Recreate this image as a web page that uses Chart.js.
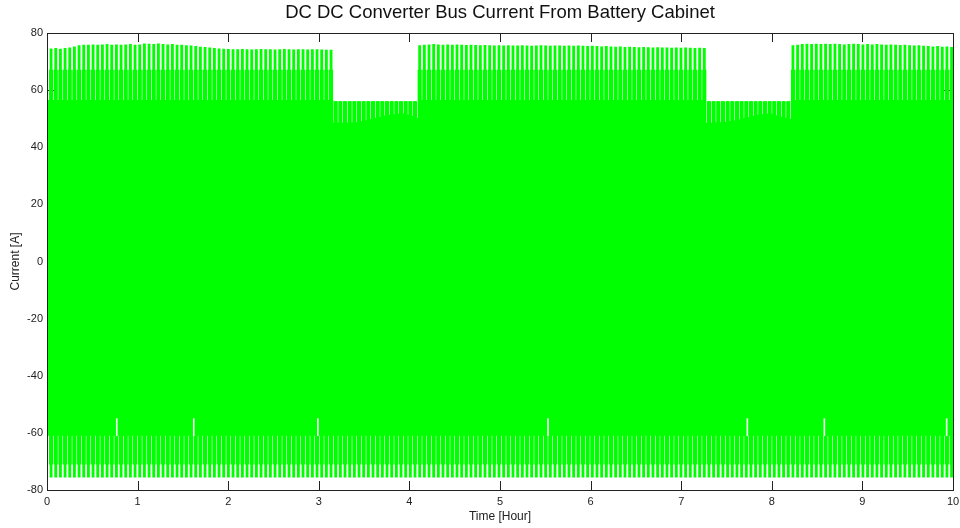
<!DOCTYPE html>
<html>
<head>
<meta charset="utf-8">
<script src="https://cdn.jsdelivr.net/npm/chart.js@4.4.1/dist/chart.umd.min.js"></script>
<style>
  html, body { margin: 0; padding: 0; background: #ffffff; }
  canvas { display: block; }
</style>
</head>
<body>
<canvas id="chart" width="960" height="528"></canvas>
<script>
// ---- Text ----
const chartTitle = 'DC DC Converter Bus Current From Battery Cabinet';
const xAxisLabel = 'Time [Hour]';
const yAxisLabel = 'Current [A]';

// ---- Tick labels ----
const xTickHours = [0, 1, 2, 3, 4, 5, 6, 7, 8, 9, 10];
const yTickAmps = [-80, -60, -40, -20, 0, 20, 40, 60, 80];

// ---- Switching bursts: first burst time and spacing (hours) ----
const SPIKE_START_H = 0.045;
const SPIKE_PERIOD_H = 0.0515;

// Positive peak of each burst [A] (56 A while the load is reduced)
const upperPeak = [
  74.5, 74.6, 74.4, 74.6, 74.8, 75.2, 75.6, 75.8, 75.8, 75.9, 75.8, 75.9, 76.0, 75.8, 75.9, 75.8, 75.9, 76.0, 75.8, 75.9,
  76.2, 76.1, 76.0, 76.2, 76.0, 75.9, 76.0, 75.8, 75.8, 75.6, 75.5, 75.3, 75.1, 75.0, 74.8, 74.6, 74.5, 74.4, 74.3, 74.2,
  74.2, 74.3, 74.2, 74.1, 74.2, 74.3, 74.2, 74.2, 74.1, 74.2, 74.3, 74.2, 74.1, 74.2, 74.2, 74.1, 74.2, 74.2, 74.1, 74.0,
  74.0, 56, 56, 56, 56, 56, 56, 56, 56, 56, 56, 56, 56, 56, 56, 56, 56, 56, 56, 75.6,
  75.8, 75.9, 76.0, 75.9, 75.8, 75.9, 75.8, 75.9, 75.8, 75.7, 75.8, 75.7, 75.6, 75.7, 75.6, 75.5, 75.6, 75.5, 75.6, 75.5,
  75.5, 75.6, 75.5, 75.4, 75.5, 75.6, 75.5, 75.4, 75.5, 75.5, 75.4, 75.5, 75.4, 75.5, 75.4, 75.3, 75.4, 75.3, 75.2, 75.3,
  75.2, 75.1, 75.2, 75.0, 75.1, 75.0, 74.9, 75.0, 74.9, 74.8, 74.9, 74.8, 74.8, 74.7, 74.8, 74.7, 74.8, 74.7, 74.6, 74.7,
  74.6, 56, 56, 56, 56, 56, 56, 56, 56, 56, 56, 56, 56, 56, 56, 56, 56, 56, 56, 75.6,
  75.8, 76.0, 76.1, 76.0, 76.1, 76.0, 76.1, 76.0, 76.1, 76.0, 75.9, 76.0, 76.1, 76.0, 75.9, 76.0, 75.9, 76.0, 75.9, 75.8,
  75.9, 75.8, 75.7, 75.8, 75.6, 75.5, 75.6, 75.4, 75.3, 75.2, 75.3, 75.1, 75.2, 75.0
];
const UPPER_SHOULDER = 67;   // positive shoulder reached by every burst [A]
const LOWER_SHOULDER = -71;  // negative shoulder [A]
const LOWER_PEAK = -75.5;    // negative peak [A]

// ---- Continuous ripple band: upper edge (hours, amps) and lower edge ----
const bandTopHours = [0, 3.16, 3.16, 3.205, 3.40, 3.565, 3.75, 3.93, 4.04, 4.105, 4.105,
                      7.27, 7.27, 7.29, 7.48, 7.65, 7.83, 7.98, 8.12, 8.22, 8.22, 10];
const bandTopAmps  = [56.5, 56.5, 48.6, 48.6, 48.7, 49.8, 51.3, 51.9, 50.9, 50.1, 56.5,
                      56.5, 48.6, 48.6, 48.8, 49.8, 51.3, 51.9, 50.5, 50.0, 56.5, 56.5];
const BAND_BOTTOM = -61;

// ---- Brief dips where the negative swing only reaches about -55 A ----
const dipHours = [0.77, 1.62, 2.99, 5.53, 7.73, 8.58, 9.93];
const DIP_LEVEL = -55;

// ---- Build datasets ----
const GREEN = '#00ff00';
const FONT = "'Liberation Sans', Arial, Helvetica, sans-serif";

const spikeHours = upperPeak.map((_, i) => SPIKE_START_H + i * SPIKE_PERIOD_H);
const band = bandTopHours.map((h, i) => ({ x: h, y: bandTopAmps[i] }));
const shoulderBars = spikeHours.map((h, i) => ({ x: h, y: [LOWER_SHOULDER, Math.min(UPPER_SHOULDER, upperPeak[i])] }));
const peakBars = spikeHours.map((h, i) => ({ x: h, y: [LOWER_PEAK, upperPeak[i]] }));
const dipBars = dipHours.map(h => ({ x: h, y: [BAND_BOTTOM, DIP_LEVEL] }));

// Box round the plot area with inward tick marks on all four sides,
// and the title centred over the plot area
const TICK_LEN = 9;
const axesBox = {
  id: 'axesBox',
  beforeDatasetsDraw(chart) {
    const { ctx, chartArea: a, scales: { x, y } } = chart;
    ctx.save();
    ctx.strokeStyle = '#222';
    ctx.lineWidth = 1;
    ctx.beginPath();
    xTickHours.forEach(v => {
      const px = Math.round(x.getPixelForValue(v)) + 0.5;
      ctx.moveTo(px, a.bottom); ctx.lineTo(px, a.bottom - TICK_LEN);
      ctx.moveTo(px, a.top); ctx.lineTo(px, a.top + TICK_LEN);
    });
    yTickAmps.forEach(v => {
      const py = Math.round(y.getPixelForValue(v)) + 0.5;
      ctx.moveTo(a.left, py); ctx.lineTo(a.left + TICK_LEN, py);
      ctx.moveTo(a.right, py); ctx.lineTo(a.right - TICK_LEN, py);
    });
    ctx.stroke();
    ctx.restore();
  },
  afterDatasetsDraw(chart) {
    const { ctx, chartArea: a } = chart;
    ctx.save();
    ctx.strokeStyle = '#222';
    ctx.lineWidth = 1;
    ctx.strokeRect(Math.round(a.left) + 0.5, Math.round(a.top) + 0.5,
                   Math.round(a.right - a.left), Math.round(a.bottom - a.top));
    ctx.fillStyle = '#111';
    ctx.font = '18.5px ' + FONT;
    ctx.textAlign = 'center';
    ctx.textBaseline = 'middle';
    ctx.fillText(chartTitle, (a.left + a.right) / 2, 12.6);
    ctx.restore();
  }
};

new Chart(document.getElementById('chart'), {
  type: 'bar',
  data: {
    datasets: [
      { type: 'line', data: band, fill: { value: BAND_BOTTOM }, backgroundColor: GREEN,
        borderColor: GREEN, borderWidth: 0, pointRadius: 0, tension: 0, order: 3 },
      { data: shoulderBars, backgroundColor: GREEN, barThickness: 3.4, grouped: false, order: 2 },
      { data: peakBars, backgroundColor: GREEN, barThickness: 2.2, grouped: false, order: 1 },
      { data: dipBars, backgroundColor: '#f4fff4', barThickness: 1, grouped: false, order: 0 }
    ]
  },
  options: {
    responsive: false,
    animation: false,
    events: [],
    layout: { padding: { left: 0, right: 7, top: 33, bottom: 0 } },
    plugins: {
      legend: { display: false },
      tooltip: { enabled: false },
      title: { display: false }
    },
    scales: {
      x: {
        type: 'linear', min: 0, max: 10, offset: false,
        grid: { display: false, drawTicks: false },
        border: { display: false },
        afterBuildTicks: s => { s.ticks = xTickHours.map(v => ({ value: v })); },
        ticks: { color: '#222', font: { family: FONT, size: 11 }, padding: 5, maxRotation: 0, autoSkip: false },
        title: { display: true, text: xAxisLabel, color: '#222', font: { family: FONT, size: 12 }, padding: { top: 0, bottom: 4 } },
        afterFit: s => { s.height = 38; s.paddingLeft = 0; s.paddingRight = 0; }
      },
      y: {
        type: 'linear', min: -80, max: 80,
        grid: { display: false, drawTicks: false },
        border: { display: false },
        afterBuildTicks: s => { s.ticks = yTickAmps.map(v => ({ value: v })); },
        ticks: { color: '#222', font: { family: FONT, size: 11 }, padding: 4, autoSkip: false },
        title: { display: true, text: yAxisLabel, color: '#222', font: { family: FONT, size: 12 }, padding: { top: 8, bottom: 0 } },
        afterFit: s => { s.width = 47; s.paddingTop = 0; s.paddingBottom = 0; }
      }
    }
  },
  plugins: [axesBox]
});
</script>
</body>
</html>
